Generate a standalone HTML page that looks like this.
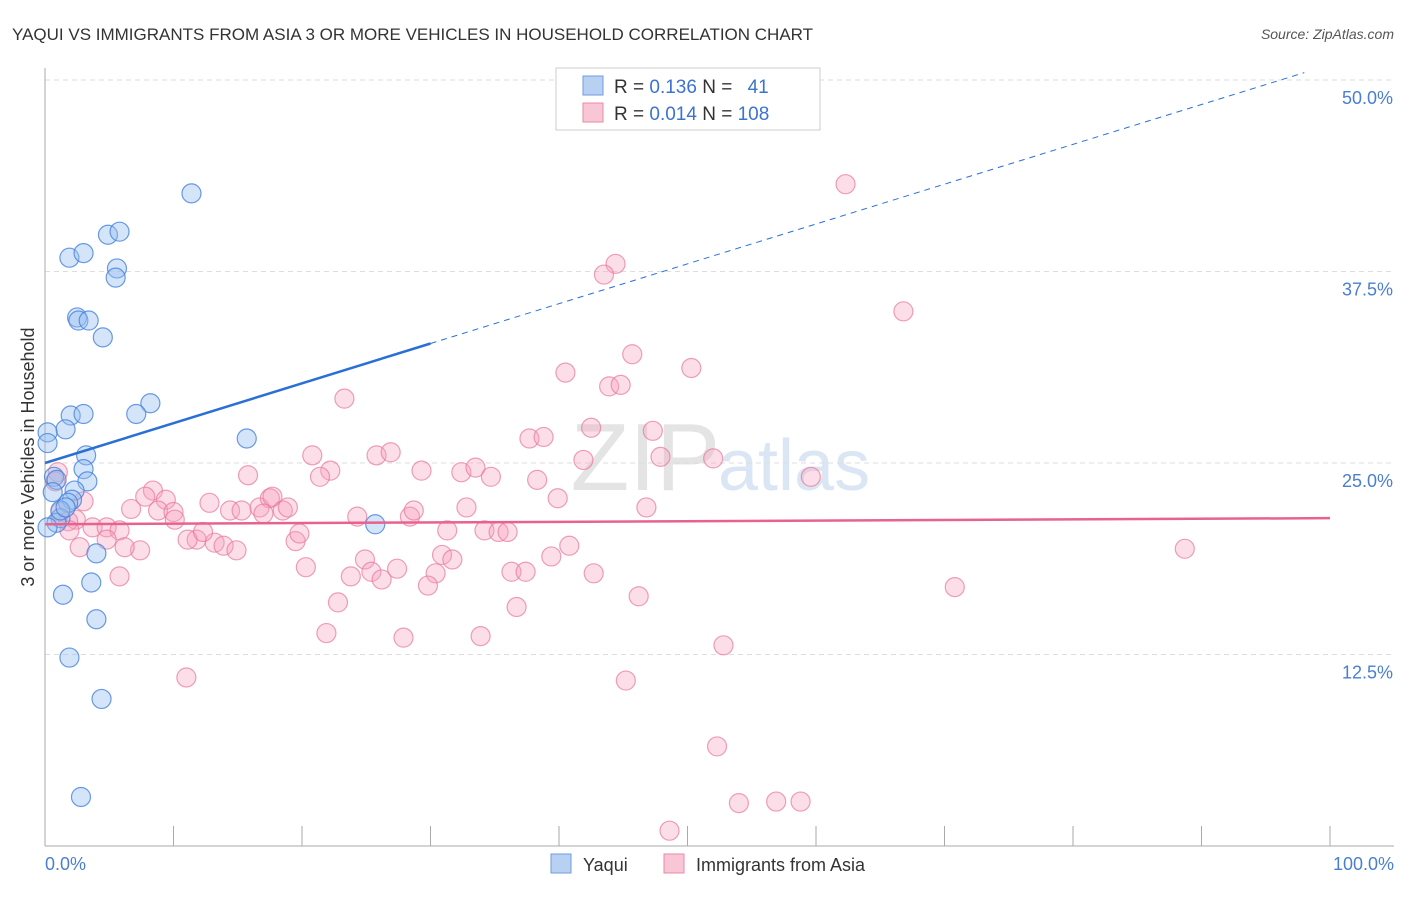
<!DOCTYPE html>
<html><head><meta charset="utf-8"><style>
body{margin:0;background:#fff;font-family:"Liberation Sans",sans-serif;}
svg text{font-family:"Liberation Sans",sans-serif;}
</style></head><body>
<svg id="chart" width="1406" height="892">
<text x="12" y="40" font-size="17" fill="#333">YAQUI VS IMMIGRANTS FROM ASIA 3 OR MORE VEHICLES IN HOUSEHOLD CORRELATION CHART</text>
<text x="1394" y="39" font-size="14" fill="#555" font-style="italic" text-anchor="end">Source: ZipAtlas.com</text>
<text x="720" y="490" font-size="96" fill="#e4e4e4" text-anchor="end" font-family="Liberation Serif">ZIP</text>
<text x="718" y="490" font-size="72" fill="#dbe6f4">atlas</text>
<g id="grid"></g><g id="axes"></g><g id="pts"></g><g id="trend"></g>
<text transform="translate(34,457) rotate(-90)" font-size="18" fill="#333" text-anchor="middle">3 or more Vehicles in Household</text>
<text x="45" y="870" font-size="18" fill="#4a7fd0">0.0%</text>
<text x="1394" y="870" font-size="18" fill="#4a7fd0" text-anchor="end">100.0%</text>
<g>
<rect x="556" y="68" width="264" height="62" fill="#fff" stroke="#ccc"/>
<rect x="583" y="76" width="20" height="19" fill="#b8d1f3" stroke="#6f9be0"/>
<rect x="583" y="103" width="20" height="19" fill="#f8c6d5" stroke="#e98aa8"/>
<text x="614" y="93" font-size="19" fill="#333">R = <tspan fill="#3b73d1">0.136</tspan>   N = <tspan fill="#3b73d1" dx="10">41</tspan></text>
<text x="614" y="120" font-size="19" fill="#333">R = <tspan fill="#3b73d1">0.014</tspan>   N = <tspan fill="#3b73d1">108</tspan></text>
</g>
<g>
<rect x="551" y="854" width="20" height="19" fill="#b8d1f3" stroke="#6f9be0"/>
<text x="583" y="871" font-size="18" fill="#333">Yaqui</text>
<rect x="664" y="854" width="20" height="19" fill="#f8c6d5" stroke="#e98aa8"/>
<text x="696" y="871" font-size="18" fill="#333">Immigrants from Asia</text>
</g>
</svg>
<script>
const yTicks=[12.5,25,37.5,50];
const yTickLabels=["12.5%","25.0%","37.5%","50.0%"];
const xTicks=[0,10,20,30,40,50,60,70,80,90,100];
const yaquiX=[11.4,4.9,5.8,1.9,3.0,5.6,5.5,2.5,2.6,3.4,4.5,8.2,7.1,2.0,3.0,1.6,0.2,0.2,15.7,3.2,3.0,0.7,0.9,3.3,2.3,2.1,1.8,1.2,0.9,0.2,25.7,4.0,3.6,1.4,4.0,1.9,4.4,2.8,1.2,0.6,1.6];
const yaquiY=[42.6,39.9,40.1,38.4,38.7,37.7,37.1,34.5,34.3,34.3,33.2,28.9,28.2,28.1,28.2,27.2,27.0,26.3,26.6,25.5,24.6,24.1,23.9,23.8,23.2,22.6,22.4,21.4,21.1,20.8,21.0,19.1,17.2,16.4,14.8,12.3,9.6,3.2,21.9,23.1,22.1];
const asiaX=[62.3,44.4,43.5,66.8,45.7,50.3,40.5,43.9,44.8,23.3,37.7,38.8,42.5,47.3,20.8,25.8,26.9,41.9,47.9,52.0,15.8,22.2,21.4,29.3,32.4,33.5,34.7,38.3,59.6,8.4,7.8,9.4,12.8,14.4,15.3,16.7,17.5,17.7,18.5,17.0,18.9,6.7,8.8,10.0,10.1,24.3,28.4,28.7,32.8,39.9,46.8,2.4,3.7,4.8,5.8,11.8,11.1,13.2,13.9,14.9,12.3,19.5,19.8,7.4,6.2,4.8,2.7,31.3,34.2,35.3,36.0,30.9,31.7,24.9,39.4,40.8,20.3,23.8,25.4,26.2,27.4,30.4,29.8,36.3,37.4,42.7,5.8,22.8,36.7,46.2,70.8,88.7,21.9,27.9,33.9,52.8,11.0,45.2,52.3,54.0,56.9,58.8,48.6,1.2,1.8,1.0,0.8,1.9,3.0];
const asiaY=[43.2,38.0,37.3,34.9,32.1,31.2,30.9,30.0,30.1,29.2,26.6,26.7,27.3,27.1,25.5,25.5,25.7,25.2,25.4,25.3,24.2,24.5,24.1,24.5,24.4,24.7,24.1,23.9,24.1,23.2,22.8,22.6,22.4,21.9,21.9,22.1,22.7,22.8,21.9,21.7,22.1,22.0,21.9,21.8,21.3,21.5,21.5,21.9,22.1,22.7,22.1,21.3,20.8,20.8,20.6,20.0,20.0,19.8,19.6,19.3,20.5,19.9,20.4,19.3,19.5,20.0,19.5,20.6,20.6,20.5,20.5,19.0,18.7,18.7,18.9,19.6,18.2,17.6,17.9,17.4,18.1,17.8,17.0,17.9,17.9,17.8,17.6,15.9,15.6,16.3,16.9,19.4,13.9,13.6,13.7,13.1,11.0,10.8,6.5,2.8,2.9,2.9,1.0,21.8,21.2,24.4,23.8,20.6,22.5];
const yaquiTrend=[25.0,0.26];
const asiaTrend=[21.0,0.004];
const NS="http://www.w3.org/2000/svg";
const sx=v=>45+v*12.85, sy=v=>846-v*15.32;
function mk(tag,attrs,parent){const e=document.createElementNS(NS,tag);for(const k in attrs)e.setAttribute(k,attrs[k]);parent.appendChild(e);return e;}
const grid=document.getElementById('grid'),axes=document.getElementById('axes'),pts=document.getElementById('pts'),trend=document.getElementById('trend');
yTicks.forEach((t,i)=>{
 const l=mk('line',{x1:45,x2:1394,y1:sy(t),y2:sy(t),stroke:'#ddd','stroke-dasharray':'5,4'},grid);
 
 
 const tx=mk('text',{x:1393,y:sy(t)+24,'font-size':18,fill:'#4a7fd0','text-anchor':'end'},grid);
 tx.textContent=yTickLabels[i];
 
 
});
const ya=mk('line',{x1:45,x2:45,y1:68,y2:846,stroke:'#aaa'},axes);


const xa=mk('line',{x1:45,x2:1394,y1:846,y2:846,stroke:'#aaa'},axes);


xTicks.forEach(t=>{
 const l=mk('line',{x1:sx(t),x2:sx(t),y1:826,y2:846,stroke:'#aaa'},axes);
 
 
});
function drawSeries(X,Y,fill,stroke,name){
 X.forEach((x,i)=>{
  const c=mk('circle',{cx:sx(x),cy:sy(Y[i]),r:9.5,fill:fill,stroke:stroke,'stroke-width':1.2},pts);
  
  
 });
}
drawSeries(asiaX,asiaY,'rgba(245,160,188,0.35)','rgba(232,120,155,0.7)','asia-point');
drawSeries(yaquiX,yaquiY,'rgba(150,190,240,0.4)','rgba(70,130,220,0.8)','yaqui-point');
const b1=mk('line',{x1:sx(0),y1:sy(yaquiTrend[0]),x2:sx(30),y2:sy(yaquiTrend[0]+30*yaquiTrend[1]),stroke:'#2a6fd6','stroke-width':2.5},trend);


const b2=mk('line',{x1:sx(30),y1:sy(yaquiTrend[0]+30*yaquiTrend[1]),x2:sx(98),y2:sy(yaquiTrend[0]+98*yaquiTrend[1]),stroke:'#2a6fd6','stroke-width':1,'stroke-dasharray':'6,5'},trend);


const p1=mk('line',{x1:sx(0),y1:sy(asiaTrend[0]),x2:sx(100),y2:sy(asiaTrend[0]+100*asiaTrend[1]),stroke:'#e8628e','stroke-width':2.5},trend);


</script>
</body></html>
